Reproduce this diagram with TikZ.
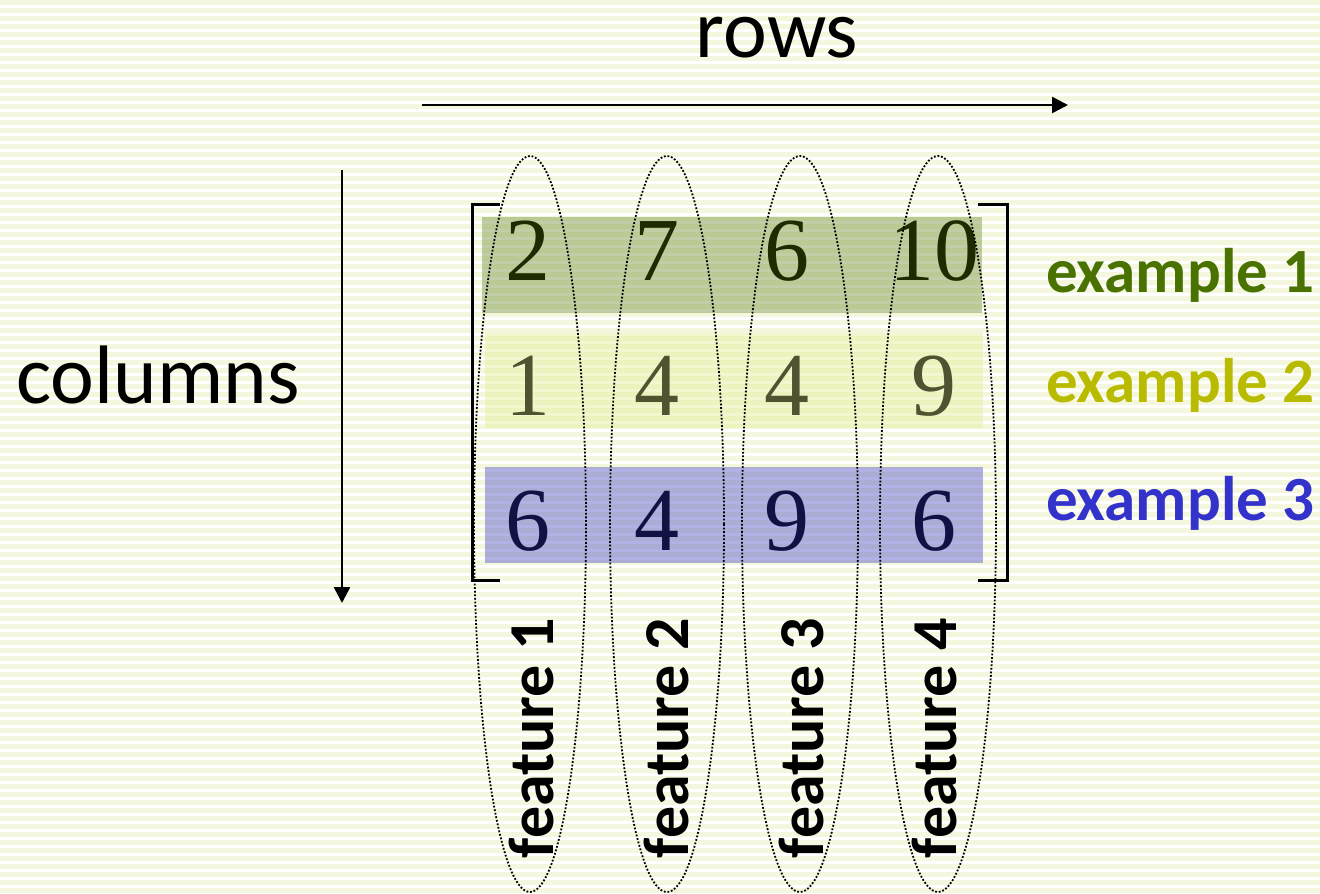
\documentclass[tikz,border=0pt]{standalone}
\usepackage{fontspec}
\setmainfont{Carlito}
\newfontfamily\numfont{Liberation Serif}
\usetikzlibrary{arrows.meta}
\definecolor{stripe}{RGB}{244,247,222}
\definecolor{bandgreen}{RGB}{118,146,60}
\definecolor{bandyellow}{RGB}{232,240,160}
\definecolor{bandblue}{RGB}{100,100,206}
\definecolor{numgreen}{RGB}{30,42,0}
\definecolor{numolive}{RGB}{80,82,48}
\definecolor{numnavy}{RGB}{17,17,68}
\definecolor{exone}{RGB}{74,114,0}
\definecolor{extwo}{RGB}{184,187,0}
\definecolor{exthree}{RGB}{51,51,204}
\begin{document}
\begin{tikzpicture}[x=1pt,y=-1pt,
  numtxt/.style={inner sep=0pt, anchor=base, font=\numfont\fontsize{90}{90}\selectfont},
  exlbl/.style={inner sep=0pt, anchor=base west, font=\bfseries\fontsize{63}{63}\selectfont},
  feat/.style={inner sep=0pt, anchor=base, rotate=90, font=\bfseries\fontsize{64}{64}\selectfont},
  bigtxt/.style={inner sep=0pt, anchor=base, font=\fontsize{83}{83}\selectfont},
  arr/.style={line width=2.6pt, -{Triangle[length=16pt,width=16pt]}},
  brk/.style={line width=3pt},
  oval/.style={line width=1.8pt, dash pattern=on 1.8pt off 1.8pt}]
\useasboundingbox (0,0) rectangle (1320,894);
\fill[white] (0,0) rectangle (1320,894);
\foreach \i in {0,...,111} \fill[stripe] (0,\i*8) rectangle (1320,\i*8+4.5);
% bands
\fill[bandgreen, fill opacity=0.45] (482,217) rectangle (982,313);
\fill[bandyellow, fill opacity=0.5] (485,333) rectangle (983,428);
\fill[bandblue, fill opacity=0.5] (485,467) rectangle (983,563);
% numbers
\node[numtxt, numgreen] (a11) at (528,280) {2};
\node[numtxt, numgreen] (a12) at (657,280) {7};
\node[numtxt, numgreen] (a13) at (787,280) {6};
\node[numtxt, numgreen] (a14) at (934,280) {10};
\node[numtxt, numolive] (a21) at (528,415) {1};
\node[numtxt, numolive] (a22) at (657,415) {4};
\node[numtxt, numolive] (a23) at (787,415) {4};
\node[numtxt, numolive] (a24) at (934,415) {9};
\node[numtxt, numnavy] (a31) at (528,550) {6};
\node[numtxt, numnavy] (a32) at (657,550) {4};
\node[numtxt, numnavy] (a33) at (787,550) {9};
\node[numtxt, numnavy] (a34) at (934,550) {6};
% brackets
\draw[brk] (500,204) -- (472,204) -- (472,580) -- (500,580);
\draw[brk] (978,204) -- (1007,204) -- (1007,580) -- (978,580);
% ellipses
\draw[oval] (530,524) ellipse [x radius=56, y radius=368];
\draw[oval] (667,524) ellipse [x radius=57, y radius=368];
\draw[oval] (800,524) ellipse [x radius=58, y radius=368];
\draw[oval] (938,524) ellipse [x radius=58, y radius=368];
% labels
\node[bigtxt] (rows) at (777,57) {rows};
\node[bigtxt] (cols) at (158,403) {columns};
\node[exlbl, exone] (ex1) at (1046,292) {example 1};
\node[exlbl, extwo] (ex2) at (1046,402) {example 2};
\node[exlbl, exthree] (ex3) at (1046,520) {example 3};
\node[feat] (f1) at (553,738) {feature 1};
\node[feat] (f2) at (688,738) {feature 2};
\node[feat] (f3) at (823,738) {feature 3};
\node[feat] (f4) at (956,738) {feature 4};
% arrows
\coordinate (rA) at (422,105);
\coordinate (rB) at (1068,105);
\coordinate (cA) at (342,170);
\coordinate (cB) at (342,603);
\draw[arr] (rA) -- (rB);
\draw[arr] (cA) -- (cB);
\end{tikzpicture}
\end{document}
